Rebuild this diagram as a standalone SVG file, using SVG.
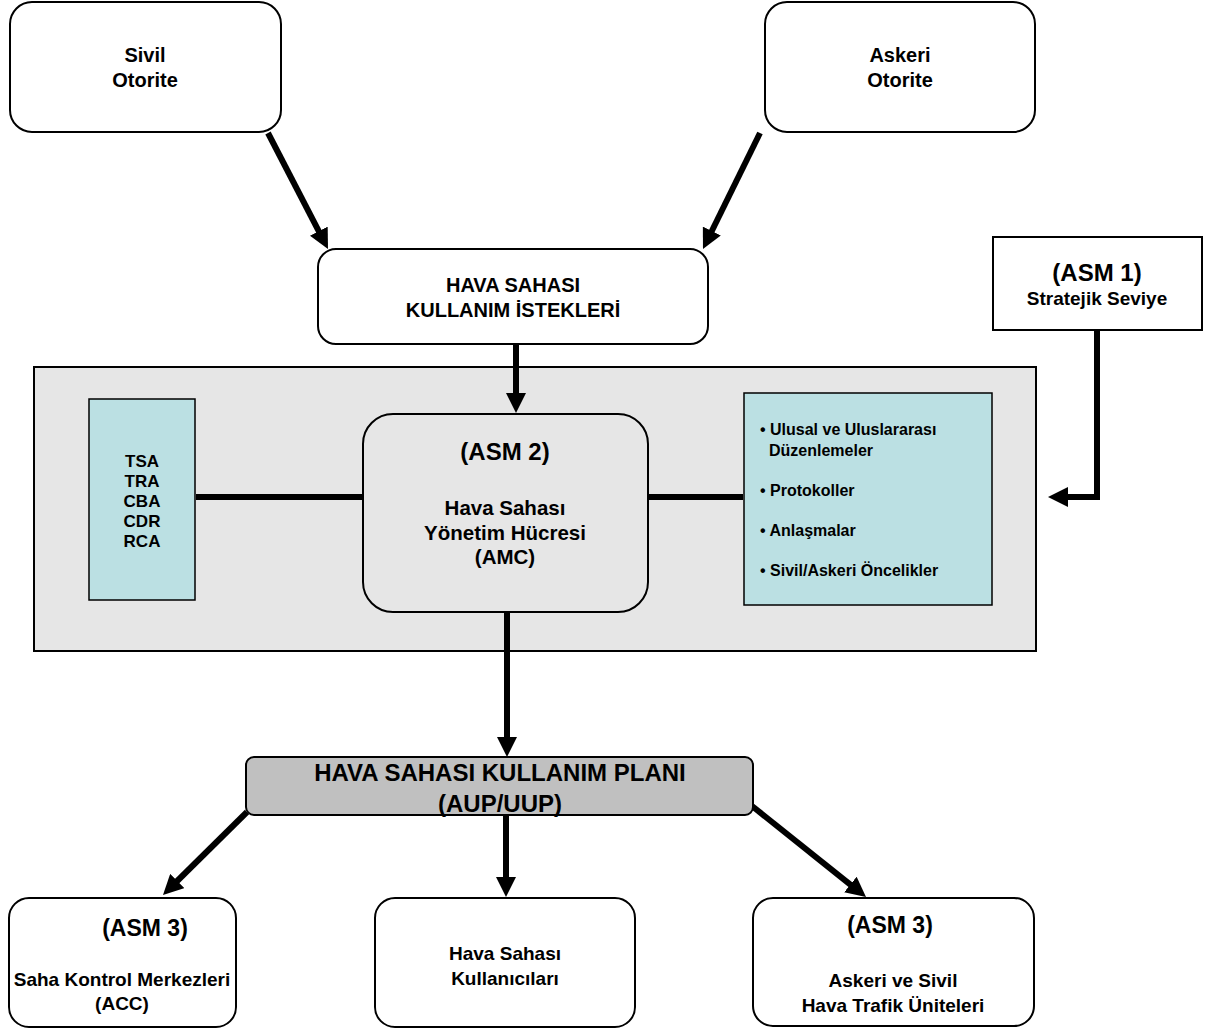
<svg xmlns="http://www.w3.org/2000/svg" width="1208" height="1030" viewBox="0 0 1208 1030">
<defs>
<style>
text{font-family:"Liberation Sans",Arial,sans-serif;font-weight:bold;fill:#000;text-anchor:middle}
.box{fill:#fff;stroke:#000;stroke-width:2}
.cont{fill:#e6e6e6;stroke:#000;stroke-width:2}
.blue{fill:#bbe0e3;stroke:#000;stroke-width:1.5}
.plan{fill:#c0c0c0;stroke:#000;stroke-width:2}
.c{fill:none;stroke:#000;stroke-width:6}
.t20{font-size:20px}
.t19{font-size:19px}
.t22{font-size:23px}
.t17{font-size:17px}
.l16{font-size:16px;text-anchor:start}
</style>
<marker id="ah" viewBox="0 0 20 20" refX="10" refY="10" markerWidth="20" markerHeight="20" markerUnits="userSpaceOnUse" orient="auto">
<path d="M0,0 L20,10 L0,20 z" fill="#000"/>
</marker>
</defs>
<rect x="0" y="0" width="1208" height="1030" fill="#fff"/>

<g id="container">
<rect class="cont" x="34" y="367" width="1002" height="284"/>
</g>

<g id="connectors">
<line class="c" x1="268" y1="133" x2="323.4" y2="240.1" marker-end="url(#ah)"/>
<line class="c" x1="760" y1="133" x2="707.4" y2="240" marker-end="url(#ah)"/>
<line class="c" x1="516" y1="344" x2="516" y2="403" marker-end="url(#ah)"/>
<path class="c" d="M1097,330 V497 H1058" marker-end="url(#ah)"/>
<line class="c" x1="196" y1="497" x2="363" y2="497"/>
<line class="c" x1="648" y1="497" x2="743" y2="497"/>
<line class="c" x1="507" y1="612" x2="507" y2="747" marker-end="url(#ah)"/>
<line class="c" x1="506" y1="816" x2="506" y2="887" marker-end="url(#ah)"/>
<line class="c" x1="247" y1="812" x2="170.1" y2="888" marker-end="url(#ah)"/>
<line class="c" x1="752" y1="806" x2="858.2" y2="890.8" marker-end="url(#ah)"/>
</g>

<g id="sivil">
<rect class="box" x="10" y="2" width="271" height="130" rx="22"/>
<text class="t20" x="145" y="62">Sivil</text>
<text class="t20" x="145" y="87">Otorite</text>
</g>

<g id="askeri">
<rect class="box" x="765" y="2" width="270" height="130" rx="22"/>
<text class="t20" x="900" y="62">Askeri</text>
<text class="t20" x="900" y="87">Otorite</text>
</g>

<g id="istekler">
<rect class="box" x="318" y="249" width="390" height="95" rx="18"/>
<text class="t20" x="513" y="292">HAVA SAHASI</text>
<text class="t20" x="513" y="317">KULLANIM İSTEKLERİ</text>
</g>

<g id="asm1">
<rect class="box" x="993" y="237" width="209" height="93"/>
<text style="font-size:24px" x="1097" y="281">(ASM 1)</text>
<text style="font-size:19px" x="1097" y="305">Stratejik Seviye</text>
</g>

<g id="tsa">
<rect class="blue" x="89" y="399" width="106" height="201"/>
<text class="t17" x="142" y="467">TSA</text>
<text class="t17" x="142" y="487">TRA</text>
<text class="t17" x="142" y="507">CBA</text>
<text class="t17" x="142" y="527">CDR</text>
<text class="t17" x="142" y="547">RCA</text>
</g>

<g id="asm2">
<rect class="cont" x="363" y="414" width="285" height="198" rx="30"/>
<text style="font-size:24px" x="505" y="460">(ASM 2)</text>
<text style="font-size:20.5px" x="505" y="515">Hava Sahası</text>
<text style="font-size:20.5px" x="505" y="540">Yönetim Hücresi</text>
<text style="font-size:20.5px" x="505" y="564">(AMC)</text>
</g>

<g id="rules">
<rect class="blue" x="744" y="393" width="248" height="212"/>
<text class="l16" x="760" y="435">• Ulusal ve Uluslararası</text>
<text class="l16" x="769" y="456">Düzenlemeler</text>
<text class="l16" x="760" y="496">• Protokoller</text>
<text class="l16" x="760" y="536">• Anlaşmalar</text>
<text class="l16" x="760" y="576">• Sivil/Askeri Öncelikler</text>
</g>

<g id="plan">
<rect class="plan" x="246" y="757" width="507" height="58" rx="8"/>
<text style="font-size:24px" x="500" y="781">HAVA SAHASI KULLANIM PLANI</text>
<text style="font-size:24px" x="500" y="812">(AUP/UUP)</text>
</g>

<g id="acc">
<rect class="box" x="9" y="898" width="227" height="129" rx="20"/>
<text class="t22" x="145" y="936">(ASM 3)</text>
<text class="t19" x="122" y="986">Saha Kontrol Merkezleri</text>
<text class="t19" x="122" y="1010">(ACC)</text>
</g>

<g id="kullanicilar">
<rect class="box" x="375" y="898" width="260" height="129" rx="20"/>
<text class="t19" x="505" y="960">Hava Sahası</text>
<text class="t19" x="505" y="985">Kullanıcıları</text>
</g>

<g id="atc">
<rect class="box" x="753" y="898" width="281" height="128" rx="20"/>
<text class="t22" x="890" y="933">(ASM 3)</text>
<text class="t19" x="893" y="987">Askeri ve Sivil</text>
<text class="t19" x="893" y="1012">Hava Trafik Üniteleri</text>
</g>
</svg>
